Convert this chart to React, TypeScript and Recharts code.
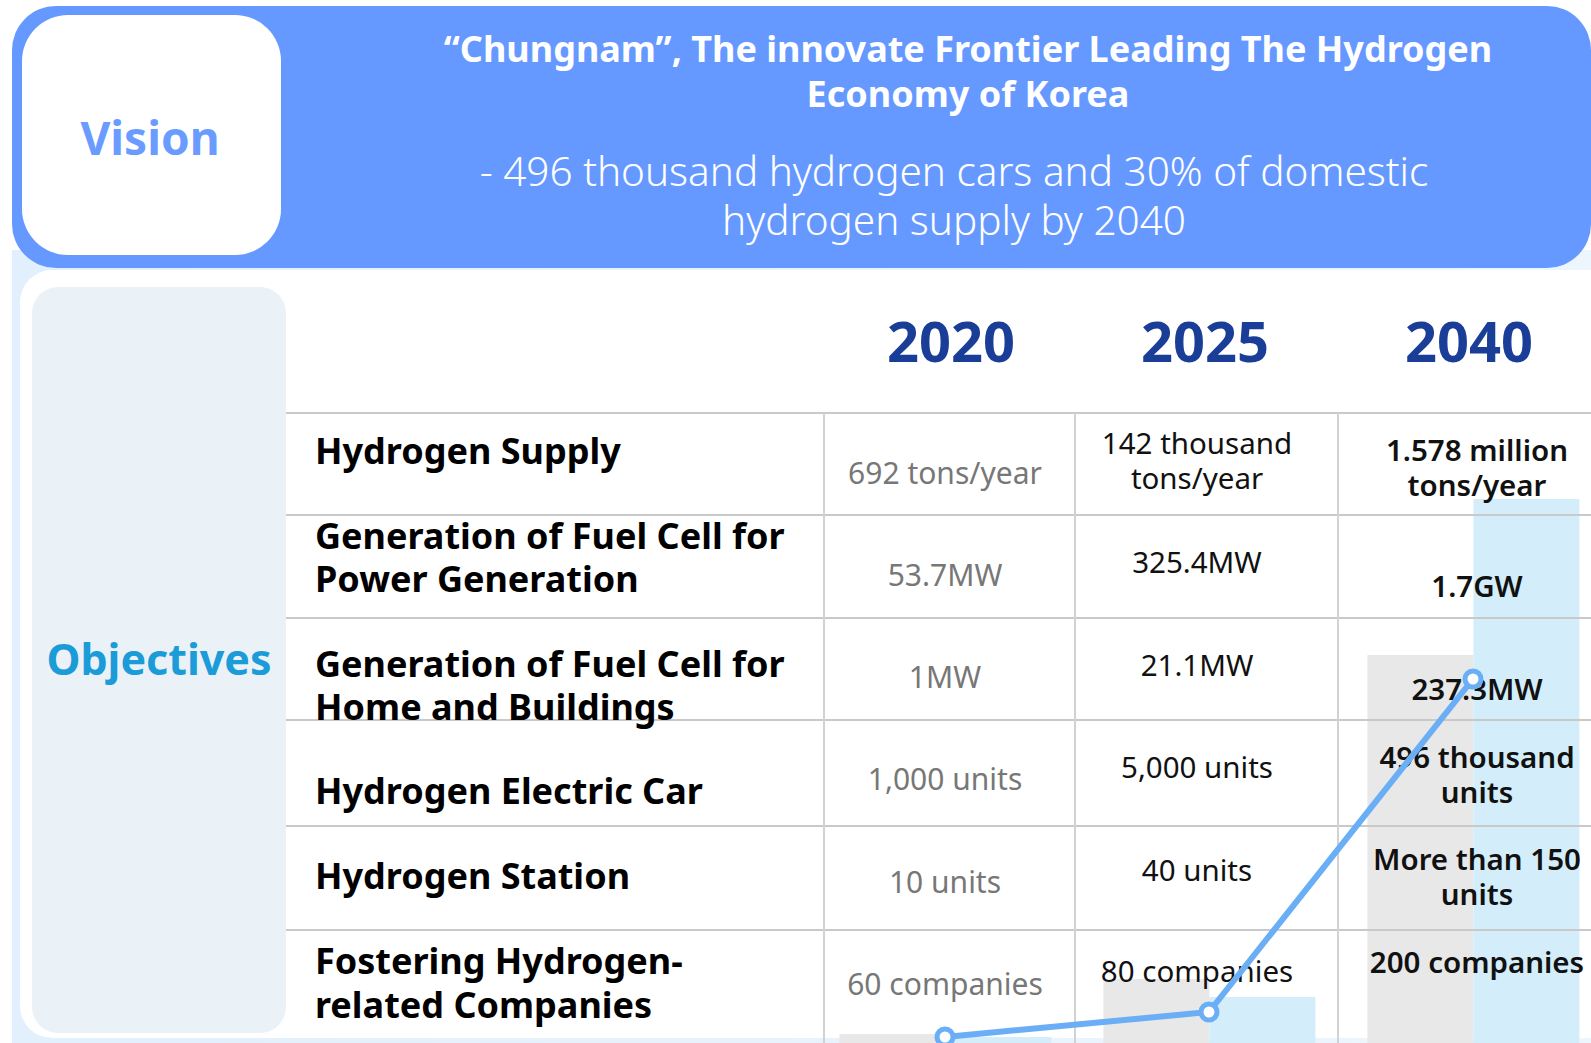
import React from 'react';
import { ComposedChart, Bar, Line, XAxis, YAxis } from 'recharts';

// chart values (pixel-ish units on a 0-600 scale)
const years = ['2020', '2025', '2040'];
const grayBars = [9, 64, 388];
const blueBars = [6, 46, 544];
const lineValues = [6, 31, 364];

// table text
const rowLabels = [
  ['Hydrogen Supply'],
  ['Generation of Fuel Cell for', 'Power Generation'],
  ['Generation of Fuel Cell for', 'Home and Buildings'],
  ['Hydrogen Electric Car'],
  ['Hydrogen Station'],
  ['Fostering Hydrogen-', 'related Companies'],
];
const values2020 = [['692 tons/year'], ['53.7MW'], ['1MW'], ['1,000 units'], ['10 units'], ['60 companies']];
const values2025 = [['142 thousand', 'tons/year'], ['325.4MW'], ['21.1MW'], ['5,000 units'], ['40 units'], ['80 companies']];
const values2040 = [
  ['1.578 million', 'tons/year'],
  ['1.7GW'],
  ['237.3MW'],
  ['496 thousand', 'units'],
  ['More than 150', 'units'],
  ['200 companies'],
];

const chartData = years.map((y, i) => ({
  year: y,
  gray: grayBars[i],
  blue: blueBars[i],
  trend: lineValues[i],
}));

// layout
const FONT = '"Noto Sans", "Open Sans", sans-serif';
const hLines = [413, 515, 618, 720, 826, 930];
const vLines = [824, 1075, 1338];
const yearX = [951, 1205, 1469];
const colX = [945, 1197, 1477];
const labelY = [[451], [536, 579], [664, 707], [791], [876], [961, 1005]];
const col2020Y = [[473], [575], [677], [779], [882], [984]];
const col2025Y = [[443, 478], [562], [665], [767], [870], [971]];
const col2040Y = [[450, 485], [586], [689], [757, 792], [859, 894], [962]];

const T = ({ x, y, size, weight = 400, color = '#000', left = false, children }: any) => (
  <div
    style={{
      position: 'absolute',
      left: x,
      top: y,
      transform: left ? 'translate(0,-50%)' : 'translate(-50%,-50%)',
      fontSize: size,
      fontWeight: weight,
      color,
      whiteSpace: 'nowrap',
      lineHeight: 1,
      fontFamily: FONT,
    }}
  >
    {children}
  </div>
);

const chartBox = { left: 813, top: 443, width: 792, height: 600 };

const App = () => {
  return (
    <div
      style={{
        position: 'absolute',
        left: 0,
        top: 0,
        width: 1591,
        height: 1043,
        overflow: 'hidden',
        background: '#fff',
        fontFamily: FONT,
      }}
    >
      {/* pale backdrop + white panel */}
      <div style={{ position: 'absolute', left: 12, top: 250, width: 1600, height: 800, background: 'linear-gradient(90deg, #E2EFFC, #EEF6FD)' }} />
      <div style={{ position: 'absolute', left: 20, top: 270, width: 1600, height: 768, background: '#fff', borderRadius: 32 }} />

      {/* header */}
      <div style={{ position: 'absolute', left: 12, top: 6, width: 1579, height: 262, background: '#6699FF', borderRadius: 44 }} />
      <div style={{ position: 'absolute', left: 22, top: 15, width: 259, height: 240, background: '#fff', borderRadius: 46 }} />
      <T x={150} y={137} size={46} weight={700} color="#6A9BFF">Vision</T>
      <T x={968} y={49} size={36} weight={700} color="#fff">“Chungnam”, The innovate Frontier Leading The Hydrogen</T>
      <T x={968} y={94} size={36} weight={700} color="#fff">Economy of Korea</T>
      <T x={954} y={171} size={40.5} weight={300} color="#fff">- 496 thousand hydrogen cars and 30% of domestic</T>
      <T x={954} y={220} size={40.5} weight={300} color="#fff">hydrogen supply by 2040</T>

      {/* objectives panel */}
      <div style={{ position: 'absolute', left: 32, top: 287, width: 254, height: 746, background: '#EAF2F8', borderRadius: 26 }} />
      <T x={159} y={658} size={43} weight={700} color="#1B9BD7">Objectives</T>

      {/* background bars */}
      <div style={{ position: 'absolute', ...chartBox }}>
        <ComposedChart width={chartBox.width} height={chartBox.height} data={chartData} margin={{ top: 0, right: 0, bottom: 0, left: 0 }} barCategoryGap="10%" barGap={0}>
          <XAxis dataKey="year" hide />
          <YAxis hide domain={[0, 600]} />
          <Bar dataKey="gray" fill="#E8E8E8" isAnimationActive={false} />
          <Bar dataKey="blue" fill="#D3EEFA" isAnimationActive={false} />
        </ComposedChart>
      </div>

      {/* table grid */}
      {hLines.map((y) => (
        <div key={'h' + y} style={{ position: 'absolute', left: 286, top: y - 1, width: 1320, height: 2, background: '#C9C9C9' }} />
      ))}
      {vLines.map((x) => (
        <div key={'v' + x} style={{ position: 'absolute', left: x - 1, top: 413, width: 2, height: 640, background: '#D2D2D2' }} />
      ))}

      {years.map((y, i) => (
        <T key={y} x={yearX[i]} y={340} size={56} weight={700} color="#1A3E97">{y}</T>
      ))}

      {rowLabels.map((lines, r) =>
        lines.map((s, k) => (
          <T key={'l' + r + k} x={315} y={labelY[r][k]} size={36} weight={700} left>{s}</T>
        ))
      )}
      {values2020.map((lines, r) =>
        lines.map((s, k) => (
          <T key={'a' + r + k} x={colX[0]} y={col2020Y[r][k]} size={30} color="#777">{s}</T>
        ))
      )}
      {values2025.map((lines, r) =>
        lines.map((s, k) => (
          <T key={'b' + r + k} x={colX[1]} y={col2025Y[r][k]} size={29.5} color="#111">{s}</T>
        ))
      )}
      {values2040.map((lines, r) =>
        lines.map((s, k) => (
          <T key={'c' + r + k} x={colX[2]} y={col2040Y[r][k]} size={29.5} weight={600} color="#111">{s}</T>
        ))
      )}

      {/* trend line on top (transparent bars keep the same band scale) */}
      <div style={{ position: 'absolute', ...chartBox }}>
        <ComposedChart width={chartBox.width} height={chartBox.height} data={chartData} margin={{ top: 0, right: 0, bottom: 0, left: 0 }} barCategoryGap="10%" barGap={0}>
          <XAxis dataKey="year" hide />
          <YAxis hide domain={[0, 600]} />
          <Bar dataKey="gray" fill="none" fillOpacity={0} isAnimationActive={false} />
          <Bar dataKey="blue" fill="none" fillOpacity={0} isAnimationActive={false} />
          <Line
            type="linear"
            dataKey="trend"
            stroke="#6AAEF6"
            strokeWidth={6}
            dot={{ r: 8, fill: '#fff', stroke: '#6AAEF6', strokeWidth: 5 }}
            isAnimationActive={false}
          />
        </ComposedChart>
      </div>
    </div>
  );
};

export default App;
